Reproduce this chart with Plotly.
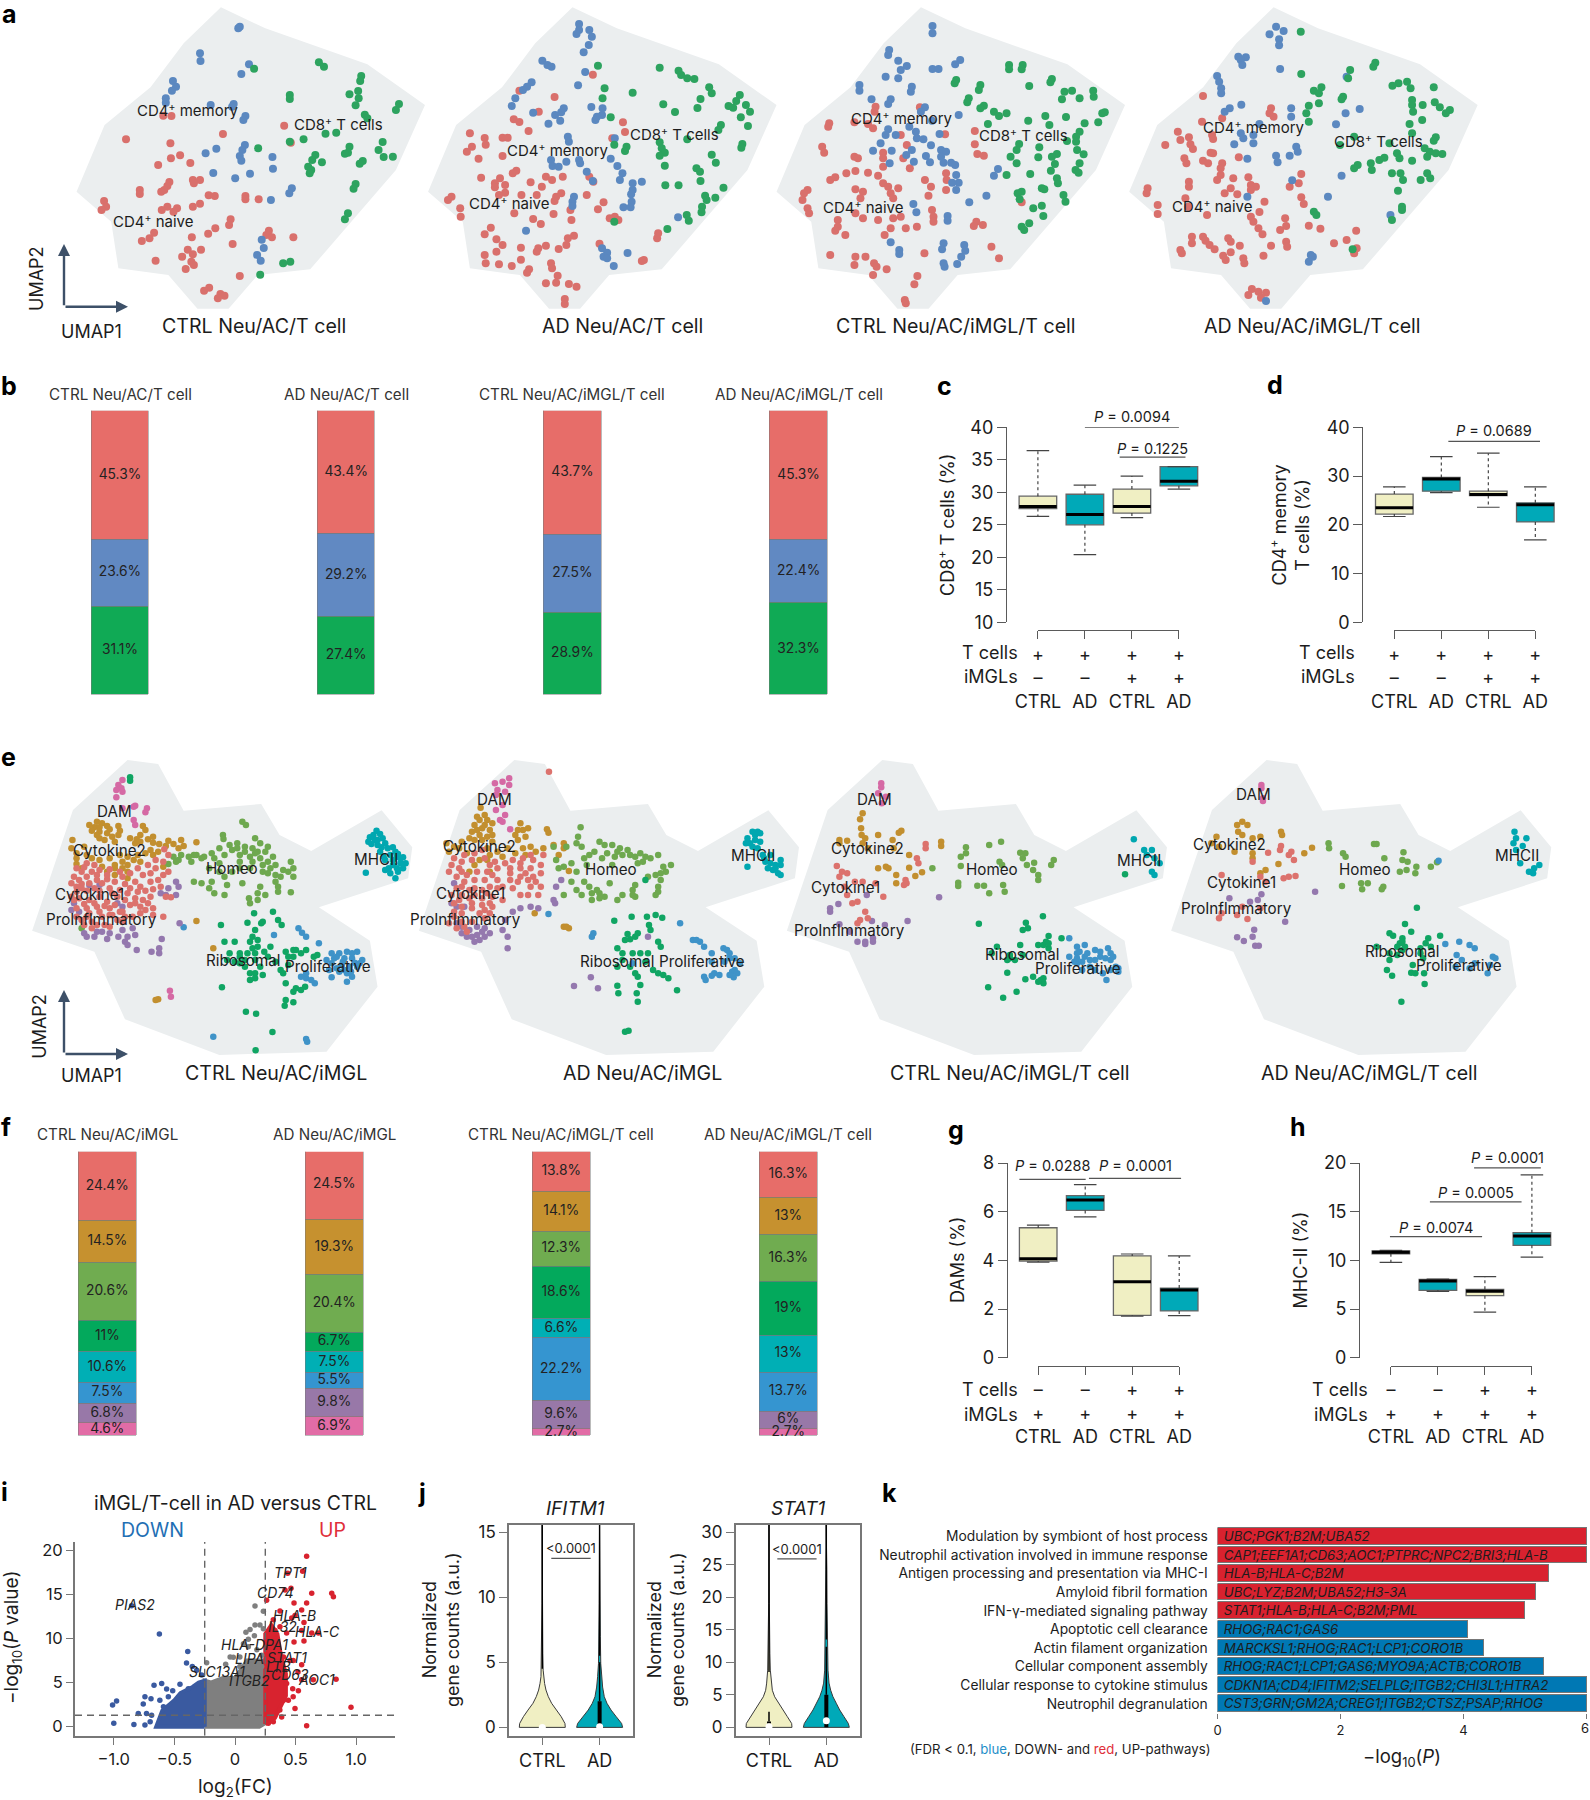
import plotly.graph_objects as go

W, H = 1590, 1800
FONT = "Inter, Roboto, sans-serif"
DARK = "#1c1c1c"
AXC = "#5a5a5a"

# ---------- UMAP hulls ----------
HULL_A = [(433,22),(520,85),(720,193),(833,315),(776,510),(608,808),(505,825),(448,926),(387,926),(330,825),(232,805),(218,665),(150,575),(205,375),(295,262),(360,130)]
HULL_E = [(250,60),(310,72),(360,212),(512,192),(548,285),(610,333),(748,211),(808,322),(800,415),(625,502),(725,602),(740,740),(640,935),(430,945),(245,838),(185,635),(63,572),(143,210)]

# ---------- panel a points ----------
A1_BLUE = [(467,85),(470,80),(392,160),(393,183),(488,193),(473,222),(339,243),(345,260),(337,272),(325,295),(325,308),(413,315),(458,312),(455,320),(481,348),(477,360),(403,460),(424,446),(480,435),(475,450),(470,468),(473,482),(534,471),(535,506),(418,519),(490,521),(461,535),(572,565),(567,580),(531,600),(513,719),(517,744),(504,765),(511,782)]
A1_GREEN = [(625,187),(635,200),(498,206),(708,228),(706,243),(568,285),(568,297),(685,283),(702,273),(703,295),(697,316),(782,312),(776,330),(715,344),(720,355),(638,401),(659,398),(595,418),(568,425),(506,445),(750,426),(742,450),(685,440),(682,458),(676,461),(770,470),(752,471),(618,465),(612,480),(631,487),(604,500),(610,510),(607,520),(711,483),(705,491),(697,552),(693,566),(682,640),(676,658),(569,785),(555,790),(510,824)]
A1_RED = [(320,347),(336,348),(557,377),(247,418),(437,402),(334,430),(353,466),(335,475),(373,489),(310,495),(570,428),(332,546),(328,558),(378,540),(392,540),(380,550),(274,570),(274,582),(322,570),(316,575),(409,586),(421,588),(481,588),(481,598),(507,598),(204,603),(208,620),(199,630),(392,611),(378,620),(328,620),(317,630),(347,625),(340,635),(452,658),(449,675),(422,685),(408,701),(527,692),(522,705),(533,712),(575,712),(302,698),(293,715),(278,723),(376,712),(456,732),(394,749),(368,749),(378,763),(357,770),(305,782),(375,785),(380,795),(364,807),(470,828),(410,863),(400,872),(432,882),(440,887),(427,895)]
A2_BLUE = [(1135,72),(1135,90),(1130,102),(1155,90),(1160,110),(1154,135),(1144,157),(1063,182),(1073,195),(1081,200),(1147,216),(1133,256),(1042,247),(1033,260),(1025,270),(1010,295),(1003,318),(1045,338),(1088,345),(1100,337),(1105,325),(1098,362),(1075,371),(1159,321),(1181,325),(1180,345),(1170,350),(1167,360),(1113,410),(1115,425),(1205,415),(1080,480),(1083,498),(1095,500),(1110,485),(1135,480),(1137,490),(1197,476),(1210,498),(1150,515),(1162,543),(1220,520),(1215,540),(1258,545),(1240,550),(1240,570),(1237,583),(1238,605),(1222,622),(1236,622),(1125,590),(1122,605),(1122,618),(1329,652),(1031,692),(1180,745),(1190,758),(1183,770),(1190,775),(1230,759),(1203,798)]
A2_GREEN = [(1172,197),(1293,203),(1330,212),(1335,225),(1347,235),(1361,237),(1185,265),(1181,295),(1240,278),(1390,262),(1395,280),(1373,297),(1300,313),(1323,336),(1367,324),(1450,285),(1443,303),(1428,318),(1437,323),(1462,315),(1470,335),(1452,352),(1466,378),(1197,352),(1413,375),(1408,390),(1347,418),(1293,427),(1297,445),(1204,434),(1228,440),(1225,453),(1303,458),(1293,467),(1455,432),(1453,443),(1395,464),(1403,488),(1303,497),(1365,505),(1372,515),(1373,543),(1304,556),(1330,556),(1418,563),(1382,587),(1385,600),(1402,593),(1376,620),(1375,637),(1346,645),(1350,662),(1308,687),(1204,665)]
A2_RED = [(1162,224),(1018,272),(1087,291),(1056,335),(1007,358),(1018,366),(1036,393),(1221,367),(1225,396),(1200,415),(921,400),(950,414),(985,413),(995,413),(952,434),(925,440),(915,455),(985,468),(938,476),(1012,512),(1005,520),(943,533),(980,535),(970,550),(970,562),(990,555),(1040,547),(1070,530),(1082,540),(1103,530),(1155,530),(1163,545),(1062,560),(990,578),(978,585),(1022,585),(1052,585),(1100,580),(1090,590),(1150,585),(1183,607),(1172,628),(1118,630),(1087,603),(885,590),(878,600),(902,625),(903,650),(1008,640),(1085,642),(1045,657),(1120,660),(1060,672),(1195,655),(1205,650),(1212,660),(962,683),(950,703),(1125,707),(1113,715),(1110,735),(1070,737),(1055,745),(1052,755),(973,718),(985,735),(1021,743),(1095,747),(1175,731),(1290,700),(1288,715),(950,765),(973,755),(952,790),(978,793),(1021,779),(1003,798),(1080,790),(1082,805),(1037,808),(1033,818),(1093,827),(1090,848),(1070,850),(1115,852),(1130,860),(1107,897),(1107,912),(1262,780),(1258,783)]
A3_BLUE = [(263,78),(263,100),(177,150),(175,165),(195,182),(212,198),(200,210),(263,207),(275,207),(318,180),(308,193),(170,230),(195,235),(118,255),(118,272),(222,260),(220,275),(142,298),(180,298),(175,312),(248,322),(240,335),(315,345),(262,362),(217,380),(175,388),(170,405),(190,405),(230,395),(232,415),(245,418),(277,402),(160,430),(145,452),(182,452),(211,465),(222,450),(260,436),(280,450),(290,455),(250,468),(280,470),(178,490),(226,485),(258,487),(285,488),(300,488),(308,495),(393,507),(385,527),(310,525),(315,548),(302,548),(310,570),(370,587),(336,607),(225,612),(231,637),(293,648),(293,662),(180,727),(197,750),(197,762),(285,730),(282,748),(326,735),(328,752),(320,770),(312,792),(285,790),(287,800)]
A3_GREEN = [(415,195),(442,195),(415,208),(440,208),(310,240),(307,250),(500,237),(497,247),(358,255),(355,270),(455,258),(540,272),(525,275),(520,298),(555,295),(582,272),(583,290),(335,295),(332,307),(365,317),(358,325),(410,340),(385,335),(395,348),(373,372),(487,348),(528,351),(600,340),(605,337),(453,362),(592,367),(565,370),(495,375),(555,395),(548,410),(530,423),(548,425),(435,432),(430,450),(475,442),(550,450),(510,462),(500,470),(473,472),(563,463),(418,470),(430,490),(506,492),(555,490),(498,512),(547,510),(553,518),(457,522),(410,525),(510,535),(512,550),(480,565),(485,568),(440,575),(432,580),(523,585),(527,605),(436,598),(480,617),(463,625),(483,648),(440,680),(455,670),(445,690)]
A3_RED = [(150,320),(148,335),(238,322),(58,370),(56,380),(108,367),(135,372),(145,385),(288,403),(200,405),(212,435),(44,440),(48,458),(347,393),(347,433),(352,462),(365,467),(108,470),(115,475),(165,458),(165,475),(205,475),(218,505),(165,500),(92,520),(110,513),(135,518),(155,527),(290,520),(291,540),(248,540),(260,560),(60,540),(70,532),(165,550),(175,560),(195,565),(110,568),(125,575),(180,580),(185,595),(290,570),(255,587),(440,607),(15,570),(8,580),(5,600),(15,625),(18,640),(120,595),(110,640),(125,655),(155,660),(185,655),(200,650),(262,630),(265,650),(265,665),(350,665),(345,678),(363,675),(75,660),(75,680),(70,692),(90,705),(210,685),(232,680),(180,685),(168,705),(60,765),(110,770),(130,770),(108,795),(147,790),(152,800),(145,825),(172,808),(247,760),(380,740),(395,775),(233,828),(227,853),(208,900),(210,910)]
A4_BLUE = [(945,80),(960,93),(932,103),(951,118),(951,136),(870,170),(885,172),(875,180),(878,195),(953,207),(1085,230),(828,228),(832,245),(836,265),(836,280),(853,325),(843,335),(876,314),(975,325),(975,350),(1083,340),(1111,327),(1064,373),(912,372),(875,400),(880,415),(900,405),(900,430),(862,433),(985,440),(988,455),(945,467),(948,487),(972,467),(888,476),(977,541),(1075,527),(1048,590),(888,590),(1172,645),(1014,765),(1018,770),(1010,785),(925,903)]
A4_GREEN = [(994,95),(1142,188),(1138,200),(995,222),(1092,210),(1088,235),(1188,250),(1176,257),(1205,245),(1212,265),(1258,262),(1035,262),(1020,272),(1030,280),(1078,290),(1075,298),(1010,317),(1030,310),(1005,340),(1010,365),(1215,300),(1215,315),(1236,315),(1260,307),(1270,322),(1290,330),(1282,340),(1217,335),(1235,360),(1210,372),(1215,400),(1262,412),(1258,422),(1100,410),(1072,435),(1170,430),(1240,445),(1250,455),(1262,460),(1275,462),(1245,470),(1185,460),(1190,475),(1160,473),(1150,480),(1133,490),(1107,495),(1100,505),(1135,510),(1215,482),(1175,520),(1192,520),(1197,540),(1245,520),(1232,540),(1251,535),(1187,572),(1195,620),(1195,630),(1175,660),(1020,635),(1025,645),(1097,748)]
A4_RED = [(935,325),(932,340),(940,350),(800,288),(838,355),(798,365),(750,395),(818,405),(820,417),(772,412),(775,433),(780,447),(725,435),(755,420),(815,458),(820,460),(871,472),(763,475),(767,490),(800,482),(810,490),(838,490),(835,505),(835,525),(828,540),(860,535),(890,532),(895,555),(905,560),(855,565),(895,570),(772,545),(772,560),(843,580),(868,583),(690,565),(688,580),(995,522),(990,550),(972,560),(995,592),(1000,612),(922,605),(808,645),(710,615),(710,642),(765,595),(770,620),(912,636),(895,650),(900,665),(910,685),(918,703),(963,655),(965,678),(953,690),(1010,677),(1033,686),(1104,692),(778,710),(778,730),(800,710),(805,722),(813,735),(823,748),(850,715),(855,725),(873,737),(935,737),(965,725),(967,740),(855,757),(840,767),(845,780),(920,767),(880,775),(882,790),(755,750),(758,760),(1060,730),(1085,720),(1105,745),(1100,760),(897,867),(890,885),(910,875),(925,878),(915,893)]

# ---------- panel e points ----------
E1_PINK = [(240,120),(232,135),(238,145),(228,150),(240,155),(228,172),(265,197),(288,205),(285,217),(262,240),(265,255),(262,200),(240,205),(333,752),(335,770)]
E1_GOLD = [(190,245),(200,250),(185,262),(210,258),(180,272),(195,275),(210,280),(232,258),(235,272),(220,290),(232,285),(268,298),(280,258),(285,270),(290,298),(300,290),(265,310),(275,305),(142,300),(140,325),(150,340),(165,320),(195,295),(312,312),(330,302),(355,300),(385,307),(350,325),(360,318),(300,345),(310,335),(150,372),(160,385),(200,380),(225,375),(240,365),(250,375),(262,360),(210,395),(225,405),(250,395),(250,415),(270,345),(285,340),(320,380),(385,543),(310,778),(418,625),(305,780),(175,255),(195,262),(215,268),(190,285),(205,300),(225,305),(255,295),(275,285),(300,308),(325,318),(340,312),(180,355),(195,360),(215,355),(235,345),(250,350),(170,345),(295,330),(150,355),(225,385),(240,385),(275,365)]
E1_RED = [(170,370),(185,375),(160,395),(180,395),(145,410),(155,420),(170,410),(190,420),(210,418),(140,430),(150,440),(175,430),(200,430),(225,425),(245,432),(265,425),(280,405),(295,400),(305,385),(320,365),(330,345),(322,328),(305,360),(290,375),(270,385),(255,400),(320,405),(330,395),(140,470),(155,475),(175,480),(195,470),(210,485),(230,470),(250,460),(265,475),(280,480),(295,470),(150,505),(170,505),(190,500),(215,505),(235,515),(255,495),(275,500),(290,490),(285,510),(160,540),(180,545),(200,530),(220,525),(300,525),(325,470),(335,472),(165,555),(180,565),(215,560),(240,545),(260,530),(320,530),(150,385),(165,382),(195,390),(215,388),(235,395),(160,432),(185,445),(215,445),(235,450),(255,445),(275,440),(295,425),(310,420),(150,455),(170,452),(195,452),(220,460),(145,480),(165,492),(185,490),(205,498),(225,495),(245,480),(265,490),(300,448),(315,440),(175,520),(195,515),(215,525),(245,530),(275,520),(150,530),(170,530),(190,555),(205,555),(230,540),(300,505),(285,452),(270,455),(240,410),(210,405),(190,405),(160,445),(240,515)]
E1_PURPLE = [(345,425),(350,440),(345,465),(325,465),(315,460),(145,490),(155,515),(175,435),(195,435),(230,490),(240,500),(170,590),(190,575),(210,597),(245,605),(260,565),(265,585),(250,615),(268,630),(297,635),(312,625),(312,640),(317,597),(352,550),(165,580),(232,590),(140,510),(215,580),(240,570),(250,590),(185,590),(200,575),(330,445)]
E1_LGREEN = [(475,245),(482,255),(437,285),(438,297),(500,295),(510,310),(525,320),(520,335),(450,315),(465,310),(480,320),(495,325),(430,325),(415,340),(400,350),(380,345),(355,345),(340,350),(330,372),(345,365),(375,365),(395,355),(455,330),(470,345),(490,350),(510,355),(525,365),(540,375),(555,390),(570,365),(575,385),(565,395),(575,410),(530,385),(515,395),(540,405),(540,425),(490,385),(470,385),(455,395),(440,410),(380,425),(395,430),(410,445),(420,460),(445,435),(440,465),(475,430),(510,440),(505,460),(520,465),(545,440),(545,455),(570,457),(488,475),(490,490),(505,480),(430,370),(160,565),(505,335),(480,335),(465,325),(500,340),(535,350),(515,375),(495,365),(470,365),(525,400),(550,410),(440,345),(420,355),(410,385),(430,395),(415,425),(385,345),(370,350),(350,360)]
E1_DGREEN = [(255,112),(255,122),(498,520),(535,515),(485,548),(433,555),(512,550),(545,540),(552,555),(500,570),(495,590),(440,605),(460,605),(490,605),(505,600),(530,620),(518,635),(470,640),(450,640),(445,660),(460,665),(480,680),(500,660),(525,650),(540,665),(560,635),(580,630),(600,630),(615,650),(575,650),(565,675),(550,690),(490,700),(500,700),(490,720),(515,705),(560,730),(580,745),(598,740),(575,755),(560,780),(575,787),(558,797),(435,742),(482,815),(502,821),(534,876),(501,931),(515,545),(622,645),(470,650),(485,640),(495,625),(505,620),(500,640),(480,660),(470,670),(510,680),(500,715),(590,640),(565,650),(575,630),(590,750),(555,700)]
E1_BLUE = [(585,565),(592,578),(600,590),(625,610),(650,640),(665,640),(680,635),(700,635),(655,655),(675,655),(690,655),(710,660),(650,670),(670,675),(685,680),(700,680),(665,695),(680,700),(690,710),(680,725),(650,712),(600,715),(617,730),(590,710),(360,562),(418,890),(537,585),(600,897),(602,905),(660,650),(690,640),(672,665),(695,668),(660,685),(675,690),(705,670),(688,695),(640,660),(645,690),(610,720),(600,700)]
E1_TEAL = [(738,272),(745,282),(725,292),(735,300),(750,295),(722,305),(740,315),(755,310),(760,325),(770,322),(775,335),(745,335),(790,352),(770,360),(785,370),(795,370),(770,375),(790,385),(755,390),(765,400),(780,395),(775,415),(717,398),(778,350),(732,285),(740,300),(748,322),(765,345),(780,342),(755,360),(778,385),(762,385),(785,355),(752,350),(728,312)]
E2_PINK = [(998,115),(985,125),(970,130),(998,135),(975,150),(990,155),(972,165),(985,195),(972,210),(990,225),(980,240),(1000,268),(985,245)]
E2_GOLD = [(950,225),(940,240),(955,240),(965,250),(930,255),(945,265),(960,270),(925,275),(940,285),(955,290),(920,295),(945,300),(965,305),(1020,250),(1025,270),(1010,285),(1030,290),(1015,300),(1072,268),(1075,278),(942,203),(1105,310),(1105,325),(880,335),(900,325),(875,310),(1040,320),(1050,335),(1065,325),(1085,315),(930,375),(940,360),(960,345),(985,350),(1010,340),(1030,345),(920,395),(1115,393),(1105,560),(1115,565),(1048,520),(1110,560),(935,230),(950,255),(935,270),(965,285),(930,300),(905,305),(1035,265),(1015,270),(890,320),(915,340),(955,325),(975,335),(995,325),(1025,325),(1095,345),(955,360),(960,395)]
E2_RED = [(1076,95),(890,355),(910,345),(930,340),(945,330),(885,375),(900,385),(915,405),(960,375),(975,385),(990,370),(1005,360),(1025,355),(1045,360),(1065,345),(1060,375),(1040,385),(1020,385),(895,410),(910,425),(930,420),(950,420),(965,405),(975,420),(1000,420),(1020,410),(1045,410),(1050,425),(1060,440),(1040,440),(1015,425),(1020,465),(1035,465),(1055,465),(960,440),(945,450),(920,450),(895,445),(885,465),(900,480),(920,475),(945,475),(965,470),(985,480),(890,530),(905,520),(925,505),(950,510),(965,500),(880,550),(895,565),(915,575),(950,535),(905,365),(925,360),(950,355),(970,365),(1040,345),(1020,370),(1000,385),(880,395),(905,395),(935,395),(955,395),(1000,400),(1030,400),(1060,400),(905,440),(930,445),(985,440),(1005,445),(1035,420),(905,465),(930,465),(955,460),(975,445),(890,490),(905,500),(925,490),(945,495),(960,520),(940,520),(905,545),(925,545),(910,560),(890,515),(960,490)]
E2_PURPLE = [(1100,420),(1090,440),(1085,480),(1088,490),(1040,500),(1055,505),(1020,505),(1005,515),(990,540),(985,570),(995,590),(995,625),(885,490),(895,500),(910,500),(890,430),(905,560),(920,570),(935,560),(950,565),(925,590),(940,600),(960,580),(1125,738),(1158,712),(1172,745),(1270,590),(915,590),(935,585),(945,575),(950,590),(930,605),(905,580),(895,550)]
E2_LGREEN = [(1138,262),(1133,290),(1130,310),(1085,320),(1110,320),(1140,320),(1175,305),(1200,315),(1215,325),(1230,330),(1165,335),(1190,340),(1205,350),(1220,345),(1245,350),(1265,350),(1250,370),(1290,345),(1315,375),(1305,395),(1285,405),(1295,420),(1290,440),(1240,450),(1245,470),(1285,465),(1270,410),(1090,360),(1095,385),(1120,370),(1150,375),(1120,425),(1145,425),(1130,450),(1105,465),(1160,460),(1175,460),(1185,470),(1195,430),(1220,465),(1210,480),(1160,480),(1200,375),(1180,355),(1185,315),(1210,335),(1235,345),(1255,340),(1275,355),(1260,365),(1300,380),(1295,400),(1155,345),(1145,355),(1105,380),(1130,395),(1155,440),(1140,465),(1245,435),(1240,465),(1290,455),(1175,475),(1170,450)]
E2_DGREEN = [(1238,530),(1204,542),(1268,530),(1285,525),(1298,533),(1272,555),(1275,570),(1250,580),(1230,582),(1235,598),(1290,605),(1295,620),(1210,625),(1220,640),(1240,640),(1270,640),(1265,665),(1235,680),(1210,680),(1280,690),(1300,705),(1310,715),(1250,710),(1255,735),(1210,737),(1212,760),(1248,760),(1250,785),(1327,751),(1225,875),(1232,872),(1265,420),(1245,590),(1225,600),(1255,640),(1290,700),(1245,700),(1220,660)]
E2_BLUE = [(1163,580),(1160,590),(1333,550),(1358,600),(1372,605),(1380,620),(1395,640),(1418,625),(1430,640),(1440,655),(1450,670),(1395,665),(1420,665),(1435,695),(1445,700),(1438,712),(1410,705),(1395,707),(1380,710),(1383,720),(1075,522),(1240,670),(1365,600),(1430,655),(1440,690),(1425,630),(1400,700),(1430,705)]
E2_TEAL = [(1485,275),(1475,275),(1465,295),(1480,300),(1490,305),(1470,310),(1485,325),(1495,345),(1510,345),(1530,360),(1500,365),(1520,375),(1530,375),(1505,385),(1515,390),(1525,400),(1530,405),(1465,380),(1480,285),(1475,320),(1498,355),(1510,370),(1520,385),(1490,280),(1462,310)]
E3_PINK = [(196,130),(196,142),(190,160),(205,170),(197,190)]
E3_GOLD = [(160,220),(155,238),(157,265),(158,285),(165,295),(190,285),(235,272),(230,278),(115,300),(130,302),(160,310),(170,325),(218,300),(220,325),(250,345),(312,305),(312,318),(190,385),(205,380),(210,385),(225,405),(225,430),(250,383),(262,408),(275,397),(115,310)]
E3_RED = [(282,312),(282,325),(265,355),(268,370),(243,420),(240,435),(110,378),(120,395),(130,400),(115,410),(145,425),(160,425),(185,430),(125,440),(130,465),(150,485),(140,490),(200,470),(165,515),(155,540),(170,535),(150,550),(245,430)]
E3_LGREEN = [(360,322),(360,340),(350,350),(350,378),(405,315),(428,305),(465,338),(475,340),(470,355),(425,365),(430,375),(478,375),(492,368),(490,390),(530,360),(525,375),(500,405),(500,420),(345,428),(345,438),(382,437),(395,437),(405,460),(432,435),(435,455),(295,385)]
E3_DGREEN = [(385,551),(509,529),(476,548),(470,570),(480,565),(520,588),(515,605),(545,595),(465,615),(420,620),(410,640),(500,615),(520,625),(445,645),(455,660),(470,645),(440,698),(475,718),(490,710),(505,720),(510,730),(403,742),(458,755),(432,773),(668,403),(510,615),(520,610),(500,725),(510,715),(440,660),(445,655)]
E3_BLUE = [(560,595),(575,620),(590,615),(610,630),(635,625),(640,640),(575,640),(590,650),(610,660),(640,660),(650,680),(575,670),(600,680),(625,700),(655,695),(632,720),(585,690),(570,665),(560,650),(580,635),(595,640),(585,665),(600,660),(575,655),(620,650),(630,655),(645,650),(610,690),(640,690),(655,685),(620,635)]
E3_TEAL = [(685,298),(705,330),(720,330),(710,345),(725,355),(735,370),(720,395),(725,405)]
E3_PURPLE = [(308,472),(168,465),(113,492),(97,505),(97,515),(178,543),(247,543),(203,555),(115,553),(150,605),(165,605),(180,595),(165,612),(180,605),(135,575)]
E4_PINK = [(932,135),(932,145),(935,175),(935,183)]
E4_GOLD = [(895,245),(885,255),(905,255),(887,275),(895,285),(915,295),(930,290),(845,290),(835,310),(880,335),(970,275),(972,285),(1030,323),(1015,340),(915,340),(940,390),(930,400),(965,372),(915,355),(850,320)]
E4_RED = [(970,318),(945,338),(990,335),(985,345),(968,330),(995,360),(915,365),(855,405),(930,410),(940,425),(975,415),(985,410),(998,408),(850,535),(855,520),(885,525),(905,537),(930,505),(895,500)]
E4_PURPLE = [(932,463),(870,475),(910,485),(925,480),(1036,455),(978,545),(918,569),(885,592),(898,603),(915,590),(920,617),(927,617)]
E4_LGREEN = [(1062,310),(1063,325),(1090,340),(1095,350),(1150,312),(1155,312),(1207,337),(1170,355),(1205,360),(1215,365),(1232,380),(1230,400),(1260,380),(1272,367),(1200,395),(1213,390),(1088,438),(1125,430),(1138,430),(1127,448),(1168,440),(1165,448)]
E4_DGREEN = [(1233,503),(1210,552),(1180,580),(1187,587),(1222,575),(1205,595),(1255,595),(1278,587),(1200,610),(1155,620),(1180,640),(1205,630),(1240,625),(1260,620),(1180,660),(1175,690),(1185,707),(1225,675),(1222,698),(1247,700),(1248,732),(1203,785),(1230,700),(1195,620),(1205,605),(1210,620),(1195,645),(1240,640),(1250,610),(1245,655)]
E4_BLUE = [(1288,612),(1315,605),(1310,645),(1335,615),(1345,625),(1320,660),(1345,670),(1335,685),(1380,650),(1385,655),(1375,675),(1370,700),(1308,680),(1275,362)]
E4_TEAL = [(1422,275),(1425,295),(1445,295),(1420,310),(1438,318),(1425,330),(1470,375),(1460,385),(1450,395),(1458,400),(1433,370)]

# ---------- stacked bars ----------
B_TITLES = ["CTRL Neu/AC/T cell","AD Neu/AC/T cell","CTRL Neu/AC/iMGL/T cell","AD Neu/AC/iMGL/T cell"]
B_RED = [45.3,43.4,43.7,45.3]
B_BLUE = [23.6,29.2,27.5,22.4]
B_GREEN = [31.1,27.4,28.9,32.3]
F_TITLES = ["CTRL Neu/AC/iMGL","AD Neu/AC/iMGL","CTRL Neu/AC/iMGL/T cell","AD Neu/AC/iMGL/T cell"]
F_RED = [24.4,24.5,13.8,16.3]
F_GOLD = [14.5,19.3,14.1,13]
F_LGREEN = [20.6,20.4,12.3,16.3]
F_DGREEN = [11,6.7,18.6,19]
F_TEAL = [10.6,7.5,6.6,13]
F_BLUE = [7.5,5.5,22.2,13.7]
F_PURPLE = [6.8,9.8,9.6,6]
F_PINK = [4.6,6.9,2.7,2.7]

# ---------- box plots: low whisker, q1, median, q3, high whisker ----------
C_LOW = [26.3,20.4,26.1,30.5]; C_Q1 = [27.5,25.0,26.8,31.0]; C_MED = [27.8,26.6,27.8,31.7]; C_Q3 = [29.4,29.7,30.5,33.95]; C_HIGH = [36.4,31.1,32.5,33.95]
D_LOW = [21.7,26.6,23.6,16.9]; D_Q1 = [22.2,26.9,26.0,20.6]; D_MED = [23.5,29.4,26.2,24.1]; D_Q3 = [26.3,29.7,26.9,24.5]; D_HIGH = [27.8,34.0,34.7,27.8]
G_LOW = [3.93,5.79,1.71,1.73]; G_Q1 = [3.97,6.05,1.74,1.92]; G_MED = [4.07,6.48,3.12,2.78]; G_Q3 = [5.34,6.66,4.18,2.86]; G_HIGH = [5.45,7.11,4.26,4.18]
H_LOW = [9.79,6.82,4.69,10.34]; H_Q1 = [10.68,6.92,6.37,11.54]; H_MED = [10.82,7.88,6.82,12.5]; H_Q3 = [10.96,8.05,7.02,12.84]; H_HIGH = [11.03,8.08,8.32,18.77]
TICKS_TM = ["+<br>–<br>CTRL","+<br>–<br>AD","+<br>+<br>CTRL","+<br>+<br>AD"]
TICKS_MT = ["–<br>+<br>CTRL","–<br>+<br>AD","+<br>+<br>CTRL","+<br>+<br>AD"]

# ---------- volcano ----------
V_GREY_MASS = [(-0.25,0),(-0.25,5.2),(-0.2,5.0),(-0.1,5.5),(0,5.5),(0.05,6.5),(0.1,7.5),(0.2,7.5),(0.25,7.5),(0.25,0.4),(0.2,0)]
V_BLUE_MASS = [(-0.25,0),(-0.25,5.2),(-0.3,5),(-0.35,4.5),(-0.45,3.8),(-0.5,3),(-0.6,1.8),(-0.65,0)]
V_RED_MASS = [(0.25,0.3),(0.25,10.5),(0.3,11.5),(0.35,10.5),(0.38,8),(0.42,6),(0.42,3.5),(0.37,2.0),(0.33,1),(0.28,0.5)]
V_GREY = [(-0.234,7.25),(-0.077,7.06),(-0.04,7.9),(-0.014,7.85),(0.09,10.7),(0.11,9.9),(0.16,10.3),(0.124,11.0),(0.165,11.5),(0.206,11.5),(0.234,11.1),(0.165,13.66),(0.234,13.06),(0.07,9.4),(0.04,7.9),(0.11,9.05),(0.18,8.7),(0.22,8.1),(0.157,6.6),(0.22,6.8),(0.04,6.8),(0.096,6.2)]
V_BLUE = [(-0.853,13.7),(-0.624,10.5),(-0.39,8.5),(-0.40,7.2),(-0.352,6.8),(-0.316,6.4),(-0.275,5.85),(-0.668,4.7),(-0.605,4.9),(-0.454,4.8),(-0.564,4.26),(-0.514,4.08),(-0.977,2.9),(-1.01,2.45),(-1.0,0.38),(-0.834,0.26),(-0.743,3.4),(-0.693,3.17),(-0.757,2.57),(-0.798,1.5),(-0.73,1.5),(-0.743,0.19),(-0.688,1.3),(-0.70,0.57),(-0.62,3.0),(-0.55,3.4),(-0.385,4.3),(-0.59,2.26)]
V_RED = [(0.591,19.3),(0.558,17.6),(0.435,17.36),(0.462,15.66),(0.261,14.3),(0.413,15.47),(0.633,15.1),(0.798,15.1),(0.812,14.7),(0.55,13.2),(0.591,14.0),(0.487,14),(0.371,13.1),(0.495,12.6),(0.468,12.3),(0.569,11.8),(0.55,10.9),(0.633,10.6),(0.688,10.6),(0.487,9.6),(0.569,9.7),(0.426,10.6),(0.33,10.9),(0.316,12.1),(0.371,11.3),(0.48,7.5),(0.55,7.0),(0.52,6.2),(0.55,5.3),(0.646,5.3),(0.834,5.36),(0.476,4.3),(0.523,4.07),(0.957,2.2),(0.495,2.07),(0.591,0.11),(0.44,3.0),(0.4,3.0),(0.48,3.4),(0.426,4.9),(0.4,6.4),(0.385,1.1),(0.316,0.57),(0.275,0.38),(0.37,1.9),(0.344,7.9),(0.4,7.9),(0.454,7.5)]
V_GENES = [("PIAS2",-0.825,13.8),("TPT1",0.46,17.5),("CD74",0.333,15.2),("HLA-B",0.49,12.6),("IL32",0.39,11.3),("HLA-C",0.674,10.75),("HLA-DPA1",0.157,9.36),("STAT1",0.432,7.8),("LIPA",0.118,7.7),("LTB",0.36,6.8),("SLC13A1",-0.15,6.2),("CD63",0.454,5.9),("AOC1",0.674,5.36),("ITGB2",0.116,5.2)]

# ---------- violins: height values and half widths ----------
VI_CTRL_Y = [0,0.3,0.82,1.33,1.85,2.36,2.87,3.38,3.9,4.4,5.7,9.5,15.6]
VI_CTRL_W = [0.401,0.395,0.33,0.25,0.163,0.105,0.064,0.04,0.023,0.015,0.009,0.006,0.003]
VI_AD_Y = [0,0.3,0.82,1.33,1.85,2.36,3.1,3.9,4.9,7,9.5,12.1,15.6]
VI_AD_W = [0.401,0.384,0.29,0.2,0.128,0.081,0.052,0.035,0.02,0.012,0.009,0.006,0.003]
VS_CTRL_Y = [0,0.6,1.64,2.67,3.7,4.7,5.7,6.8,8.8,11.4,13.9,19,31.1]
VS_CTRL_W = [0.401,0.395,0.32,0.244,0.169,0.099,0.058,0.041,0.023,0.015,0.009,0.006,0.003]
VS_AD_Y = [0,0.6,1.64,2.67,3.7,4.7,5.7,6.8,8.8,13.9,19,24.2,31.1]
VS_AD_W = [0.401,0.384,0.308,0.233,0.174,0.116,0.076,0.047,0.029,0.015,0.012,0.009,0.003]
# violin inner marks: neck start, whisker low, whisker high, box low, box high, median
VI_CTRL_MARKS = (4.5, None, None, None, None, 0)
VI_AD_MARKS = (5.5, 2.0, 5.0, 0.25, 2.0, 0.05)
VS_CTRL_MARKS = (8.5, 0.9, 2.4, 0.6, 0.9, 0.1)
VS_AD_MARKS = (13.5, 5.0, 12.4, 0.0, 5.0, 1)

# ---------- pathway bars ----------
K_TERMS = ["Modulation by symbiont of host process","Neutrophil activation involved in immune response","Antigen processing and presentation via MHC-I","Amyloid fibril formation","IFN-γ-mediated signaling pathway","Apoptotic cell clearance","Actin filament organization","Cellular component assembly","Cellular response to cytokine stimulus","Neutrophil degranulation"]
K_GENES = ["UBC;PGK1;B2M;UBA52","CAP1;EEF1A1;CD63;AOC1;PTPRC;NPC2;BRI3;HLA-B","HLA-B;HLA-C;B2M","UBC;LYZ;B2M;UBA52;H3-3A","STAT1;HLA-B;HLA-C;B2M;PML","RHOG;RAC1;GAS6","MARCKSL1;RHOG;RAC1;LCP1;CORO1B","RHOG;RAC1;LCP1;GAS6;MYO9A;ACTB;CORO1B","CDKN1A;CD4;IFITM2;SELPLG;ITGB2;CHI3L1;HTRA2","CST3;GRN;GM2A;CREG1;ITGB2;CTSZ;PSAP;RHOG"]
K_VALUES = [6,6,5.39,5.17,5.0,4.06,4.32,5.3,6,6]

# ---------- colours ----------
C_AR, C_AB, C_AG = "#D9706C", "#5B88C0", "#2DA35F"
C_R, C_GO, C_LG, C_DG, C_T, C_B, C_PU, C_PI = "#DC726D", "#C28F2F", "#6EA84F", "#10A563", "#00A7B0", "#3F93C8", "#9478AE", "#D569A4"
BARB = ["#E76D69", "#6189C2", "#10AA55"]
BARF = ["#E76D69", "#C6912F", "#70AC50", "#03A95C", "#00AFB5", "#3595D0", "#9878A8", "#E26CA6"]
YEL, TEAL = "#F0EFC3", "#00A9B8"

fig = go.Figure()
layout = {}
annots = []
_n = [1]


def px_x(p):
    return p / W


def px_y(p):
    return 1 - p / H


def new_axes(l, r, t, b, xr, yr, xkw=None, ykw=None):
    _n[0] += 1
    n = _n[0]
    xd = dict(domain=[px_x(l), px_x(r)], range=xr, anchor=f"y{n}", showgrid=False, zeroline=False, visible=False, fixedrange=True)
    yd = dict(domain=[px_y(b), px_y(t)], range=yr, anchor=f"x{n}", showgrid=False, zeroline=False, visible=False, fixedrange=True)
    xd.update(xkw or {})
    yd.update(ykw or {})
    layout[f"xaxis{n}"] = xd
    layout[f"yaxis{n}"] = yd
    return f"x{n}", f"y{n}"


def txt(text, x, y, size=15, color=DARK, anchor="center", angle=0, xref="paper", yref="paper", yanchor="middle", family=FONT):
    annots.append(dict(text=text, x=x, y=y, xref=xref, yref=yref, showarrow=False, xanchor=anchor, yanchor=yanchor,
                       textangle=angle, font=dict(size=size, color=color, family=family), align="center"))


def ptxt(text, xp, yp, **k):
    txt(text, px_x(xp), px_y(yp), **k)


def arrow(x0, y0, x1, y1):
    annots.append(dict(text="", x=px_x(x1), y=px_y(y1), ax=x0 - x1, ay=y0 - y1, xref="paper", yref="paper", axref="pixel", ayref="pixel",
                       showarrow=True, arrowhead=2, arrowsize=1, arrowwidth=2.4, arrowcolor="#3D5068"))


def hull(pts, k, dx, xa, ya):
    xs = [p[0] * k + dx for p in pts] + [pts[0][0] * k + dx]
    ys = [p[1] for p in pts] + [pts[0][1]]
    fig.add_trace(go.Scatter(x=xs, y=ys, mode="lines", fill="toself", fillcolor="#EBEEEF", line=dict(width=0), hoverinfo="skip", xaxis=xa, yaxis=ya))


def dots(pts, color, size, xa, ya, symbol="circle"):
    fig.add_trace(go.Scatter(x=[p[0] for p in pts], y=[p[1] for p in pts], mode="markers",
                             marker=dict(color=color, size=size, symbol=symbol, line=dict(width=0)), hoverinfo="skip", xaxis=xa, yaxis=ya))


# ---------- panel a ----------
a1x, a1y = new_axes(0, 800, 0, 350, [0, 1568], [1050, 0])
a2x, a2y = new_axes(800 - 100 / 1.985, 1590, 0, 350, [-100, 790 * 1.985], [1050, 0])
hull(HULL_A, 1, 0, a1x, a1y)
hull(HULL_A, 1, 689, a1x, a1y)
hull(HULL_A, 1.0128, -198.5, a2x, a2y)
hull(HULL_A, 1.0128, 501.5, a2x, a2y)
for red, blue, green, xa, ya in [(A1_RED, A1_BLUE, A1_GREEN, a1x, a1y), (A2_RED, A2_BLUE, A2_GREEN, a1x, a1y),
                                 (A3_RED, A3_BLUE, A3_GREEN, a2x, a2y), (A4_RED, A4_BLUE, A4_GREEN, a2x, a2y)]:
    dots(red, C_AR, 8, xa, ya)
    dots(blue, C_AB, 8, xa, ya)
    dots(green, C_AG, 8, xa, ya)
MEM = "CD4<sup>+</sup> memory"; CD8 = "CD8<sup>+</sup> T cells"; NAI = "CD4<sup>+</sup> naive"
for t, x, y, xa, ya in [(MEM, 368, 330, a1x, a1y), (CD8, 664, 373, a1x, a1y), (NAI, 300, 663, a1x, a1y),
                        (MEM, 1093, 450, a1x, a1y), (CD8, 1322, 402, a1x, a1y), (NAI, 998, 610, a1x, a1y),
                        (MEM, 203, 353, a2x, a2y), (CD8, 443, 405, a2x, a2y), (NAI, 126, 620, a2x, a2y),
                        (MEM, 902, 380, a2x, a2y), (CD8, 1148, 423, a2x, a2y), (NAI, 817, 617, a2x, a2y)]:
    txt(t, x, y, size=15, xref=xa, yref=ya)
for t, x, xa, ya in [("CTRL Neu/AC/T cell", 498, a1x, a1y), ("AD Neu/AC/T cell", 1220, a1x, a1y),
                     ("CTRL Neu/AC/iMGL/T cell", 310, a2x, a2y), ("AD Neu/AC/iMGL/T cell", 1018, a2x, a2y)]:
    txt(t, x, 978, size=19.6, xref=xa, yref=ya)
arrow(64, 306.7, 64, 244)
arrow(64, 306.7, 128, 306.7)
ptxt("UMAP2", 36, 279, size=18, angle=-90)
ptxt("UMAP1", 91, 331, size=18)


# ---------- stacked bars helper ----------
def stacks(top, bottom, c0, sp, bw, groups, colors, titles, title_y):
    left, right = c0 - 0.4 * sp, c0 + 3.5 * sp
    xa, ya = new_axes(left, right, top, bottom, [(left - c0) / sp, (right - c0) / sp], [0, 100])
    base = [0, 0, 0, 0]
    tx, ty, tt = [], [], []
    for vals, col in reversed(list(zip(groups, colors))):
        fig.add_trace(go.Bar(x=[0, 1, 2, 3], y=vals, width=bw / sp, marker=dict(color=col, line=dict(width=0.5, color="#777")),
                             hoverinfo="skip", xaxis=xa, yaxis=ya))
        for i, v in enumerate(vals):
            tx.append(i)
            ty.append(base[i] + v / 2)
            tt.append(f"{v}%")
            base[i] += v
    fig.add_trace(go.Scatter(x=tx, y=ty, text=tt, mode="text", textposition="middle center", cliponaxis=False,
                             textfont=dict(size=13.8, color="#222", family=FONT), hoverinfo="skip", xaxis=xa, yaxis=ya))
    for i, t in enumerate(titles):
        txt(t, i, px_y(title_y), size=15.2, color="#333", xref=xa, yref="paper")


stacks(410.7, 695, 120, 226.2, 57.4, [B_RED, B_BLUE, B_GREEN], BARB, B_TITLES, 394.3)
stacks(1151.7, 1436, 107.3, 227, 57.4, [F_RED, F_GOLD, F_LGREEN, F_DGREEN, F_TEAL, F_BLUE, F_PURPLE, F_PINK], BARF, F_TITLES, 1134.3)


# ---------- box panels ----------
def boxes(ax_px, tick0, sp, top, bottom, yr, yticks, low, q1, med, q3, high, ticktext, bar_y, head_r, rows, ytitle, ytx, yty, pv):
    right = tick0 + 3.65 * sp
    xa, ya = new_axes(ax_px, right, top, bottom, [(ax_px - tick0) / sp, (right - tick0) / sp], yr,
                      ykw=dict(visible=True, showline=True, linecolor=AXC, linewidth=1.2, ticks="outside", ticklen=9, tickcolor=AXC,
                               tickvals=yticks, tickfont=dict(size=18, color=DARK, family=FONT)))
    wx, wy, cx, cy, mx, my = [], [], [], [], [], []
    for i in range(4):
        wx += [i, i, None, i, i, None]
        wy += [q1[i], low[i], None, q3[i], high[i], None]
        cx += [i - 0.24, i + 0.24, None, i - 0.24, i + 0.24, None]
        cy += [low[i], low[i], None, high[i], high[i], None]
        mx += [i - 0.4, i + 0.4, None]
        my += [med[i], med[i], None]
    fig.add_trace(go.Scatter(x=wx, y=wy, mode="lines", line=dict(color="#333", width=1.1, dash="3px,3px"), hoverinfo="skip", xaxis=xa, yaxis=ya))
    fig.add_trace(go.Scatter(x=cx, y=cy, mode="lines", line=dict(color="#444", width=1.2), hoverinfo="skip", xaxis=xa, yaxis=ya))
    for col, idx in [(YEL, [0, 2]), (TEAL, [1, 3])]:
        fig.add_trace(go.Box(x=idx, q1=[q1[i] for i in idx], median=[med[i] for i in idx], q3=[q3[i] for i in idx],
                             lowerfence=[q1[i] for i in idx], upperfence=[q3[i] for i in idx], width=0.8, whiskerwidth=0,
                             fillcolor=col, line=dict(color="#666", width=1.3), boxpoints=False, hoverinfo="skip", xaxis=xa, yaxis=ya))
    fig.add_trace(go.Scatter(x=mx, y=my, mode="lines", line=dict(color="black", width=3), hoverinfo="skip", xaxis=xa, yaxis=ya))
    for x0, x1, yv, tx, ty in pv:
        fig.add_trace(go.Scatter(x=[x0, x1], y=[yv, yv], mode="lines", line=dict(color="#555", width=1.3), hoverinfo="skip", xaxis=xa, yaxis=ya, cliponaxis=False))
        # text may sit above the axis range, so it is placed in page fractions
        frac = (ty - yr[0]) / (yr[1] - yr[0])
        tpx = bottom - frac * (bottom - top)
        txt(tx, (x0 + x1) / 2, px_y(tpx), size=14.5, xref=xa, yref="paper")
    # lower bracket axis carrying the T-cell / iMGL rows
    _n[0] += 1
    n = _n[0]
    layout[f"xaxis{n}"] = dict(domain=[px_x(tick0), px_x(tick0 + 3 * sp)], range=[0, 3], anchor="free", position=px_y(bar_y), side="bottom",
                               showline=True, linecolor=AXC, linewidth=1.2, ticks="outside", ticklen=8, tickcolor=AXC, tickvals=[0, 1, 2, 3],
                               ticktext=ticktext, tickangle=0, tickfont=dict(size=18, color=DARK, family=FONT), showgrid=False, zeroline=False, fixedrange=True)
    fig.add_trace(go.Scatter(x=[0, 3], y=[None, None], mode="markers", hoverinfo="skip", xaxis=f"x{n}", yaxis=ya))
    ptxt("T cells", head_r, rows[0], size=18, anchor="right")
    ptxt("iMGLs", head_r, rows[1], size=18, anchor="right")
    ptxt(ytitle, ytx, yty, size=18, angle=-90)


PV = "<i>P</i> = "
boxes(1007, 1037.9, 47, 427.3, 622.3, [10, 40], [10, 15, 20, 25, 30, 35, 40], C_LOW, C_Q1, C_MED, C_Q3, C_HIGH, TICKS_TM, 630.3, 1019.7, (652.7, 676.7),
      "CD8<sup>+</sup> T cells (%)", 946, 525,
      [(1.0, 3.0, 40, PV + "0.0094", 41.6), (1.74, 3.14, 35.4, PV + "0.1225", 36.7)])
boxes(1363.4, 1394.3, 47, 427.3, 622.3, [0, 40], [0, 10, 20, 30, 40], D_LOW, D_Q1, D_MED, D_Q3, D_HIGH, TICKS_TM, 630.3, 1357, (652.7, 676.7),
      "CD4<sup>+</sup> memory<br>T cells (%)", 1289.5, 525,
      [(1.15, 3.1, 37.1, PV + "0.0689", 39.3)])
boxes(1007.9, 1038.2, 47, 1163, 1357.7, [0, 8], [0, 2, 4, 6, 8], G_LOW, G_Q1, G_MED, G_Q3, G_HIGH, TICKS_MT, 1365.7, 1019.6, (1389.3, 1414),
      "DAMs (%)", 957, 1260,
      [(-0.4, 1.01, 7.33, PV + "0.0288", 7.89), (1.08, 3.04, 7.37, PV + "0.0001", 7.89)])
boxes(1360.1, 1390.9, 47, 1163, 1357.7, [0, 20], [0, 5, 10, 15, 20], H_LOW, H_Q1, H_MED, H_Q3, H_HIGH, TICKS_MT, 1365.7, 1369.8, (1389.3, 1414),
      "MHC-II (%)", 1300.4, 1260,
      [(-0.02, 1.94, 12.43, PV + "0.0074", 13.4), (0.83, 2.78, 16, PV + "0.0005", 17), (1.77, 3.19, 19.5, PV + "0.0001", 20.6)])

# ---------- panel e ----------
e1x, e1y = new_axes(0, 800, 740, 1090, [0, 1568], [1050, 0])
e2x, e2y = new_axes(780, 1590, 740, 1090, [0, 810 * 1.936], [1050, 0])
hull(HULL_E, 1, 0, e1x, e1y)
hull(HULL_E, 1, 758, e1x, e1y)
hull(HULL_E, 0.9878, -49, e2x, e2y)
hull(HULL_E, 0.9878, 695, e2x, e2y)
for s, xa, ya in [((E1_PINK, E1_GOLD, E1_LGREEN, E1_DGREEN, E1_BLUE, E1_TEAL, E1_PURPLE, E1_RED), e1x, e1y),
                  ((E2_PINK, E2_GOLD, E2_LGREEN, E2_DGREEN, E2_BLUE, E2_TEAL, E2_PURPLE, E2_RED), e1x, e1y),
                  ((E3_PINK, E3_GOLD, E3_LGREEN, E3_DGREEN, E3_BLUE, E3_TEAL, E3_PURPLE, E3_RED), e2x, e2y),
                  ((E4_PINK, E4_GOLD, E4_LGREEN, E4_DGREEN, E4_BLUE, E4_TEAL, E4_PURPLE, E4_RED), e2x, e2y)]:
    for pts, col in zip(s, [C_PI, C_GO, C_LG, C_DG, C_B, C_T, C_PU, C_R]):
        dots(pts, col, 6.5, xa, ya)
E_NAMES = ["DAM", "Cytokine2", "Homeo", "MHCII", "Cytokine1", "ProInflmmatory", "Ribosomal", "Proliferative"]
E1_LABEL = [(225,213),(215,332),(455,385),(737,358),(175,462),(198,538),(477,660),(643,680)]
E2_LABEL = [(970,178),(940,320),(1197,388),(1475,345),(923,460),(912,537),(1210,665),(1375,663)]
E3_LABEL = [(182,178),(170,325),(410,387),(695,362),(126,442),(135,570),(470,643),(577,686)]
E4_LABEL = [(917,162),(870,312),(1132,388),(1427,347),(893,428),(883,505),(1205,635),(1314,676)]
for lab, xa, ya in [(E1_LABEL, e1x, e1y), (E2_LABEL, e1x, e1y), (E3_LABEL, e2x, e2y), (E4_LABEL, e2x, e2y)]:
    for name, (x, y) in zip(E_NAMES, lab):
        txt(name, x, y, size=15.2, xref=xa, yref=ya)
for t, x, xa, ya in [("CTRL Neu/AC/iMGL", 541, e1x, e1y), ("AD Neu/AC/iMGL", 1260, e1x, e1y),
                     ("CTRL Neu/AC/iMGL/T cell", 445, e2x, e2y), ("AD Neu/AC/iMGL/T cell", 1142, e2x, e2y)]:
    txt(t, x, 1000, size=19.6, xref=xa, yref=ya)
arrow(64, 1054, 64, 990)
arrow(64, 1054, 128, 1054)
ptxt("UMAP2", 40, 1026.7, size=18, angle=-90)
ptxt("UMAP1", 91, 1075, size=18)

# ---------- panel i ----------
axline = dict(visible=True, showline=True, linecolor="#777", linewidth=2, ticks="outside", ticklen=7, tickcolor="#777",
              tickfont=dict(size=16.5, color=DARK, family=FONT))
vx, vy = new_axes(75, 395, 1541.7, 1735.7, [-1.32, 1.32], [-1.02, 20.94],
                  xkw=dict(axline, tickvals=[-1, -0.5, 0, 0.5, 1], ticktext=["−1.0", "−0.5", "0", "0.5", "1.0"]),
                  ykw=dict(axline, tickvals=[0, 5, 10, 15, 20]))
for mass, col in [(V_GREY_MASS, "#7F7F7F"), (V_BLUE_MASS, "#3A5AA0"), (V_RED_MASS, "#D8232F")]:
    fig.add_trace(go.Scatter(x=[p[0] for p in mass] + [mass[0][0]], y=[p[1] for p in mass] + [mass[0][1]], mode="lines", fill="toself",
                             fillcolor=col, line=dict(color=col, width=4), hoverinfo="skip", xaxis=vx, yaxis=vy))
dots(V_GREY, "#7F7F7F", 5.5, vx, vy)
dots(V_BLUE, "#3A5AA0", 5.5, vx, vy)
dots(V_RED, "#D8232F", 5.5, vx, vy)
for xv, yv in [([-0.25, -0.25], [-1.02, 20.9]), ([0.25, 0.25], [-1.02, 20.9]), ([-1.32, 1.32], [1.3, 1.3])]:
    fig.add_trace(go.Scatter(x=xv, y=yv, mode="lines", line=dict(color="#666", width=1.4, dash="7px,5px"), hoverinfo="skip", xaxis=vx, yaxis=vy))
for g, x, y in V_GENES:
    txt(f"<i>{g}</i>", x, y, size=14, color="#222", xref=vx, yref=vy)
ptxt("iMGL/T-cell in AD versus CTRL", 235, 1503, size=19.4)
ptxt("DOWN", 152, 1530, size=19.5, color="#1F6FB4")
ptxt("UP", 332, 1530, size=19.5, color="#E0303A")
ptxt("−log<sub>10</sub>(<i>P</i> value)", 12, 1638, size=19, angle=-90)
ptxt("log<sub>2</sub>(FC)", 235, 1787, size=19)


# ---------- panel j ----------
def violin(l, r, yr, yticks, ctrl, ad, marks, sp, pos0, title, title_x, ytx, brack):
    frame = dict(visible=True, showline=True, mirror=True, linecolor="#777", linewidth=1.5, ticks="outside", ticklen=8, tickcolor="#777",
                 tickfont=dict(size=17, color=DARK, family=FONT))
    xa, ya = new_axes(l, r, 1525, 1735.7, [(l - pos0) / sp, (r - pos0) / sp], yr,
                      xkw=dict(frame, tickvals=[0, 1], ticktext=["CTRL", "AD"], tickfont=dict(size=18, color=DARK, family=FONT)),
                      ykw=dict(frame, tickvals=yticks))
    top = yr[1]
    for i, ((ys, ws), col, mk) in enumerate(zip((ctrl, ad), (YEL, TEAL), marks)):
        neck, wl, wh, bl, bh, mid = mk
        xs = [i + w for w in ws] + [i - w for w in reversed(ws)] + [i + ws[0]]
        yy = list(ys) + list(reversed(ys)) + [ys[0]]
        fig.add_trace(go.Scatter(x=xs, y=yy, mode="lines", fill="toself", fillcolor=col, line=dict(color="#3a3a3a", width=1), hoverinfo="skip", xaxis=xa, yaxis=ya))
        fig.add_trace(go.Scatter(x=[i, i], y=[neck, top], mode="lines", line=dict(color="black", width=1.4), hoverinfo="skip", xaxis=xa, yaxis=ya))
        if wl is not None:
            fig.add_trace(go.Scatter(x=[i, i], y=[wl, wh], mode="lines", line=dict(color="black", width=1.5), hoverinfo="skip", xaxis=xa, yaxis=ya))
            fig.add_trace(go.Scatter(x=[i, i], y=[bl, bh], mode="lines", line=dict(color="black", width=4), hoverinfo="skip", xaxis=xa, yaxis=ya))
        fig.add_trace(go.Scatter(x=[i], y=[mid], mode="markers", marker=dict(color="white", size=7), hoverinfo="skip", xaxis=xa, yaxis=ya, cliponaxis=False))
    x0, x1, yl, ty = brack
    fig.add_trace(go.Scatter(x=[x0, x1], y=[yl, yl], mode="lines", line=dict(color="#555", width=1.2), hoverinfo="skip", xaxis=xa, yaxis=ya))
    txt("&lt;0.0001", (x0 + x1) / 2, ty, size=13, xref=xa, yref=ya)
    ptxt(f"<i>{title}</i>", title_x, 1508, size=19)
    ptxt("Normalized<br>gene counts (a.u.)", ytx, 1630, size=18, angle=-90)


violin(509, 632.7, [-0.64, 15.56], [0, 5, 10, 15], (VI_CTRL_Y, VI_CTRL_W), (VI_AD_Y, VI_AD_W), (VI_CTRL_MARKS, VI_AD_MARKS), 57.33, 542.3,
       "IFITM1", 575, 441, (0.157, 0.843, 13.0, 13.77))
violin(735.7, 860, [-1.28, 31.1], [0, 5, 10, 15, 20, 25, 30], (VS_CTRL_Y, VS_CTRL_W), (VS_AD_Y, VS_AD_W), (VS_CTRL_MARKS, VS_AD_MARKS), 57.33, 769,
       "STAT1", 798, 666, (0.145, 0.83, 25.9, 27.4))

# ---------- panel k ----------
kx, ky = new_axes(1217.5, 1590, 1527, 1713, [0, 6.06], [9.5, -0.5],
                  xkw=dict(visible=True, showline=False, ticks="outside", ticklen=5, tickcolor="#777", tickvals=[0, 2, 4, 6], ticktext=["0", "2", "4", " "],
                           tickfont=dict(size=13, color=DARK, family=FONT)),
                  ykw=dict(visible=True, showline=False, ticks="outside", ticklen=6, tickcolor="rgba(0,0,0,0)", tickvals=list(range(10)), ticktext=K_TERMS,
                           tickfont=dict(size=13.8, color=DARK, family=FONT)))
for rows, col in [(range(0, 5), "#D9222F"), (range(5, 10), "#0078B4")]:
    fig.add_trace(go.Bar(y=list(rows), x=[K_VALUES[i] for i in rows], orientation="h", width=0.9,
                         marker=dict(color=col, line=dict(color="#777", width=1)),
                         text=[f"\u00a0<i>{K_GENES[i]}</i>" for i in rows], textposition="inside", insidetextanchor="start", textangle=0, constraintext="none",
                         textfont=dict(size=13.3, color="#1c1c1c", family=FONT), hoverinfo="skip", xaxis=kx, yaxis=ky))
ptxt("6", 1585, 1728, size=13, anchor="center")
ptxt('(FDR &lt; 0.1, <span style="color:#1F8FC9">blue</span>, DOWN- and <span style="color:#E0303A">red</span>, UP-pathways)', 1060, 1749, size=13.2)
ptxt("−log<sub>10</sub>(<i>P</i>)", 1402, 1757, size=18.5)

# ---------- panel letters ----------
for ch, x, y in [("a", 9, 14), ("b", 9, 386), ("c", 944, 386), ("d", 1275, 385), ("e", 8, 757), ("f", 6, 1127), ("g", 956, 1130), ("h", 1298, 1127), ("i", 4, 1492), ("j", 422, 1493), ("k", 889, 1493)]:
    ptxt(f"<b>{ch}</b>", x, y, size=25, color="black")

fig.update_layout(width=W, height=H, margin=dict(l=0, r=0, t=0, b=0, autoexpand=False), autosize=False, showlegend=False, paper_bgcolor="white", plot_bgcolor="rgba(0,0,0,0)",
                  barmode="stack", bargap=0, font=dict(family=FONT, color=DARK), annotations=annots, **layout)
fig.write_html("out.html", config={"displayModeBar": False}, post_script="document.body.style.margin='0';")
